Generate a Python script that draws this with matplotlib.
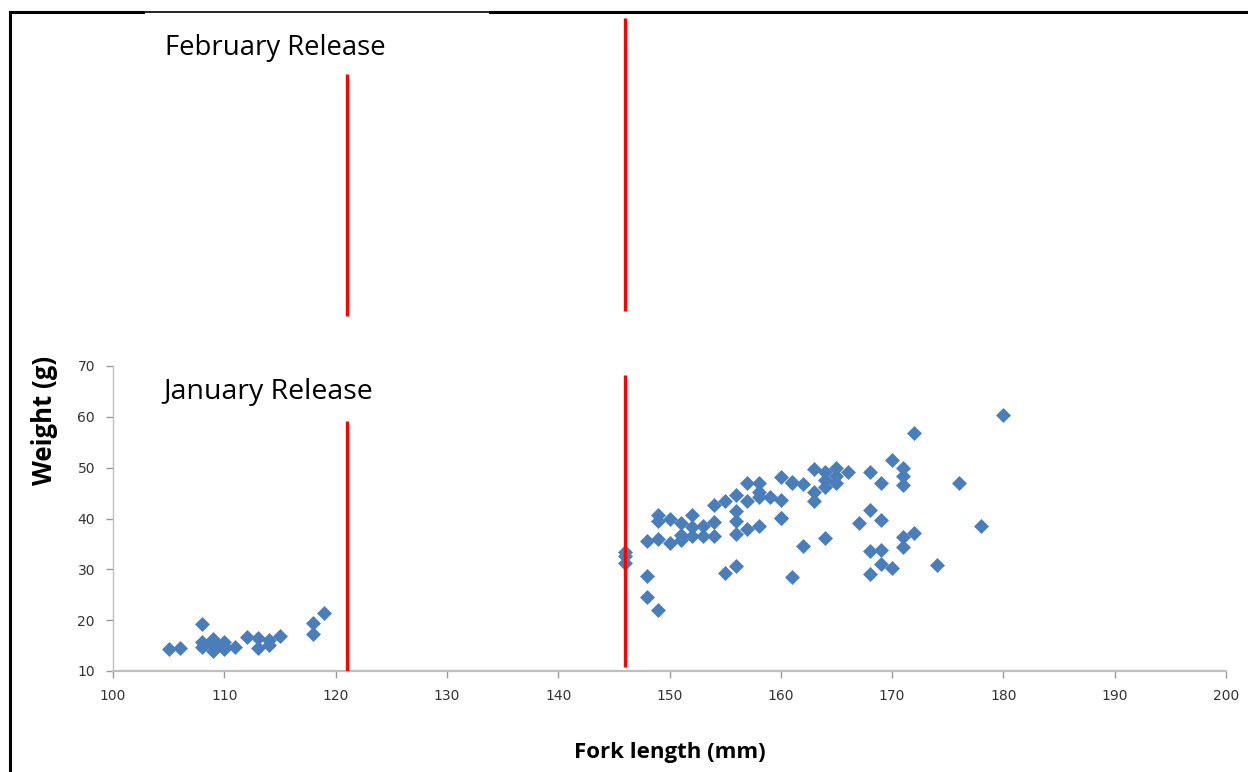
import matplotlib
matplotlib.use("Agg")
import matplotlib.pyplot as plt
from matplotlib.lines import Line2D

# fork length (mm) and weight (g)
fork_len = [105, 106, 108, 108, 108, 109, 109, 109, 110, 110, 110, 111,
            112, 113, 113, 114, 114, 115, 118, 118, 119,
            146, 146, 146, 148, 148, 148, 149, 149, 149, 149, 150, 150,
            151, 151, 151, 152, 152, 152, 153, 153, 154, 154, 154, 155,
            155, 156, 156, 156, 156, 156, 157, 157, 157, 158, 158, 158,
            158, 159, 160, 160, 160, 160, 161, 161, 161, 162, 162, 163,
            163, 163, 164, 164, 164, 164, 165, 165, 165, 166, 167, 168,
            168, 168, 168, 169, 169, 169, 169, 170, 170, 171, 171, 171,
            171, 171, 172, 172, 174, 176, 178, 180]
weight = [14.3, 14.5, 19.2, 15.8, 14.8, 15.2, 14.0, 16.3, 15.8, 14.3, 15.0, 14.8,
          16.6, 16.5, 14.6, 16.1, 15.2, 16.9, 19.4, 17.3, 21.4,
          33.5, 32.6, 31.2, 35.5, 28.7, 24.6, 40.7, 39.6, 35.9, 22.0, 40.0, 35.2,
          39.1, 36.8, 35.8, 40.6, 38.4, 36.6, 38.6, 36.5, 39.4, 36.6, 42.7, 43.4,
          29.2, 44.6, 41.4, 39.6, 37.0, 30.6, 46.9, 43.4, 37.9, 46.9, 45.3, 44.3,
          38.5, 44.3, 48.1, 43.7, 40.1, 40.1, 47.2, 28.5, 46.9, 46.7, 34.6, 49.7,
          45.3, 43.5, 49.2, 47.5, 46.1, 36.2, 49.9, 48.3, 46.9, 49.2, 39.1, 49.2,
          41.6, 33.6, 29.0, 47.0, 39.8, 33.9, 31.1, 51.6, 30.3, 49.9, 48.3, 46.6,
          36.3, 34.3, 56.8, 37.2, 30.8, 46.9, 38.5, 60.4]

# release separation lines (x position, y start, y end)
jan_x = [121, 146]
jan_y0 = [10, 10.8]
jan_y1 = [59.2, 68.3]
feb_x = [121, 146]
feb_y0 = [0.073, 0.088]
feb_y1 = [0.811, 0.982]

W, H = 1248, 772
fig = plt.figure(figsize=(W / 100, H / 100), dpi=100)

ax = fig.add_axes([113 / W, 1 - 671 / H, 1113 / W, 305 / H])
ax.scatter(fork_len, weight, marker='D', s=58, color='#4a7ebb', linewidths=0, zorder=3)
ax.vlines(jan_x, jan_y0, jan_y1, colors='#ff0000', linewidth=2.4, zorder=4)
ax.set_xlim(100, 200)
ax.set_ylim(10, 70)
ax.set_xticks(range(100, 201, 10))
ax.set_yticks(range(10, 71, 10))
for s in ['top', 'right']:
    ax.spines[s].set_visible(False)
ax.spines['bottom'].set_color('#bfbfbf')
ax.spines['bottom'].set_linewidth(1.6)
ax.spines['left'].set_color('#bfbfbf')
ax.spines['left'].set_linewidth(1.0)
ax.tick_params(axis='both', direction='out', length=5, width=1, color='#999999',
               labelsize=10, labelcolor='#333333', pad=8)
ax.set_xlabel('Fork length (mm)', fontsize=16, fontweight='bold',
              family='Open Sans', labelpad=28)
ax.text(104.5, 64.8, 'January Release', fontsize=20.5, family='Open Sans',
        va='center', ha='left')

fig.text(45 / W, 1 - 420 / H, 'Weight (g)', rotation=90, fontsize=18.5,
         fontweight='bold', family='Open Sans', ha='center', va='center')

# top panel: february release
ax2 = fig.add_axes([113 / W, 1 - 340 / H, 1113 / W, 328 / H])
ax2.set_xlim(100, 200)
ax2.set_ylim(0, 1)
ax2.axis('off')
ax2.vlines(feb_x, feb_y0, feb_y1, colors='#ff0000', linewidth=2.4)
ax2.text(104.7, 0.89, 'February Release', fontsize=19.8, family='Open Sans',
         va='center', ha='left')

# outer frame
fig.add_artist(Line2D([10 / W, 10 / W], [0, 1 - 12 / H], transform=fig.transFigure,
                      color='black', linewidth=2.2))
fig.add_artist(Line2D([10 / W, 143 / W], [1 - 12 / H, 1 - 12 / H], transform=fig.transFigure,
                      color='black', linewidth=2.2))
fig.add_artist(Line2D([143 / W, 490 / W], [1 - 12 / H, 1 - 12 / H], transform=fig.transFigure,
                      color='black', linewidth=1.2))
fig.add_artist(Line2D([490 / W, 1], [1 - 12 / H, 1 - 12 / H], transform=fig.transFigure,
                      color='black', linewidth=2.2))

plt.savefig('out.png', dpi=100)
